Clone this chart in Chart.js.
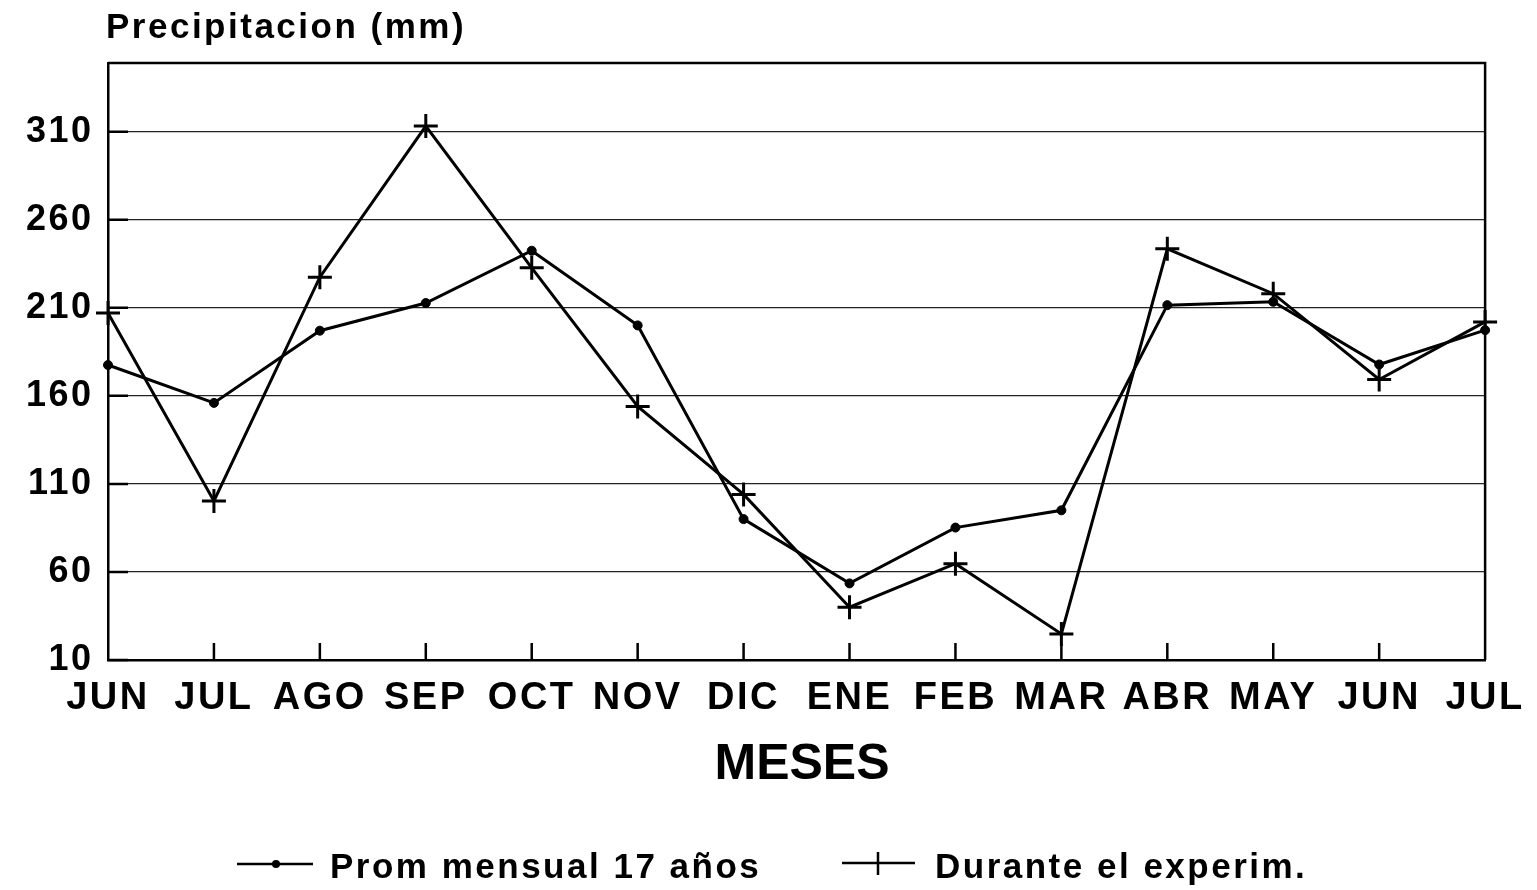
<!DOCTYPE html>
<html><head><meta charset="utf-8">
<script src="https://cdn.jsdelivr.net/npm/chart.js@4/dist/chart.umd.min.js"></script>
<style>html,body{margin:0;padding:0;background:#fff;overflow:hidden}#wrap{width:1537px;height:890px}</style>
</head><body><div id="wrap"><canvas id="c" width="1537" height="890"></canvas></div>
<script>
const months = ['JUN','JUL','AGO','SEP','OCT','NOV','DIC','ENE','FEB','MAR','ABR','MAY','JUN','JUL'];
const promMensual = [177.5, 156, 197, 212.7, 242.4, 200, 90, 53.5, 85.2, 95, 211.5, 213.4, 177.8, 197.3];
const duranteExperim = [207, 100.3, 227.4, 313.2, 232.7, 154, 104, 40, 64.7, 24.8, 243.5, 218, 169.3, 202];
const yTicks = [10, 60, 110, 160, 210, 260, 310];
const yTitle = 'Precipitacion (mm)';
const xTitle = 'MESES';
const legendLabels = ['Prom mensual 17 años', 'Durante el experim.'];

const FONT = '"Liberation Sans", Arial, Helvetica, sans-serif';

const decor = {
  id: 'decor',
  beforeDraw(chart) { chart.ctx.letterSpacing = '2.5px'; },
  afterDraw(chart) {
    const ctx = chart.ctx, a = chart.chartArea;
    const xs = chart.scales.x, ys = chart.scales.y;
    ctx.save();
    ctx.letterSpacing = '0px';
    ctx.strokeStyle = '#000';
    ctx.lineWidth = 2.5;
    ctx.beginPath();
    ctx.moveTo(a.left, a.top); ctx.lineTo(a.right, a.top); ctx.lineTo(a.right, a.bottom);
    ctx.stroke();
    ctx.lineWidth = 2.5;
    ctx.beginPath();
    for (let i = 1; i < months.length - 1; i++) {
      const x = xs.getPixelForTick(i);
      ctx.moveTo(x, a.bottom); ctx.lineTo(x, a.bottom - 17);
    }
    for (const v of yTicks) {
      const y = ys.getPixelForValue(v);
      ctx.moveTo(a.left, y); ctx.lineTo(a.left + 20, y);
    }
    ctx.stroke();
    ctx.fillStyle = '#000';
    ctx.font = 'bold 35px ' + FONT;
    ctx.letterSpacing = '2.5px';
    ctx.textAlign = 'left'; ctx.textBaseline = 'alphabetic';
    ctx.fillText(yTitle, 106, 38);
    ctx.letterSpacing = '0px';
    ctx.font = 'bold 50px ' + FONT;
    ctx.textAlign = 'center';
    ctx.fillText(xTitle, 802, 779);
    ctx.font = 'bold 35px ' + FONT;
    ctx.letterSpacing = '2.5px';
    ctx.textAlign = 'left';
    ctx.lineWidth = 2.5;
    ctx.beginPath(); ctx.moveTo(237, 864); ctx.lineTo(313, 864); ctx.stroke();
    ctx.beginPath(); ctx.arc(276, 864, 4, 0, Math.PI * 2); ctx.fill();
    ctx.fillText(legendLabels[0], 330, 878);
    ctx.beginPath(); ctx.moveTo(842, 863); ctx.lineTo(915, 863);
    ctx.moveTo(878, 852); ctx.lineTo(878, 875); ctx.stroke();
    ctx.fillText(legendLabels[1], 935, 878);
    ctx.restore();
  }
};

new Chart(document.getElementById('c'), {
  type: 'line',
  data: {
    labels: months,
    datasets: [
      { label: legendLabels[0], data: promMensual, borderColor: '#000', backgroundColor: '#000',
        borderWidth: 3, pointStyle: 'circle', pointRadius: 4.5, pointBorderWidth: 1, tension: 0 },
      { label: legendLabels[1], data: duranteExperim, borderColor: '#000', backgroundColor: '#000',
        borderWidth: 3, pointStyle: 'cross', pointRadius: 12, pointBorderWidth: 3, tension: 0 }
    ]
  },
  options: {
    responsive: false, animation: false, devicePixelRatio: 1,
    layout: { padding: { top: 63, right: 51, left: 0, bottom: 0 } },
    plugins: { legend: { display: false }, title: { display: false }, tooltip: { enabled: false } },
    scales: {
      x: {
        type: 'category', offset: false,
        grid: { display: false, drawTicks: false },
        border: { display: true, color: '#000', width: 2.5 },
        ticks: { color: '#000', font: { family: FONT, size: 38, weight: 'bold' }, padding: 16,
                 maxRotation: 0, autoSkip: false },
        afterFit(s) { s.height = 230; }
      },
      y: {
        min: 10, max: 349,
        afterBuildTicks(s) { s.ticks = yTicks.map(v => ({ value: v })); },
        grid: { color: '#222', lineWidth: 1.3, borderDash: [1.5, 2], drawTicks: false },
        border: { display: true, color: '#000', width: 2.5 },
        ticks: { color: '#000', font: { family: FONT, size: 36, weight: 'bold' }, padding: 14.5 },
        afterFit(s) { s.width = 108; }
      }
    }
  },
  plugins: [decor]
});
</script></body></html>
